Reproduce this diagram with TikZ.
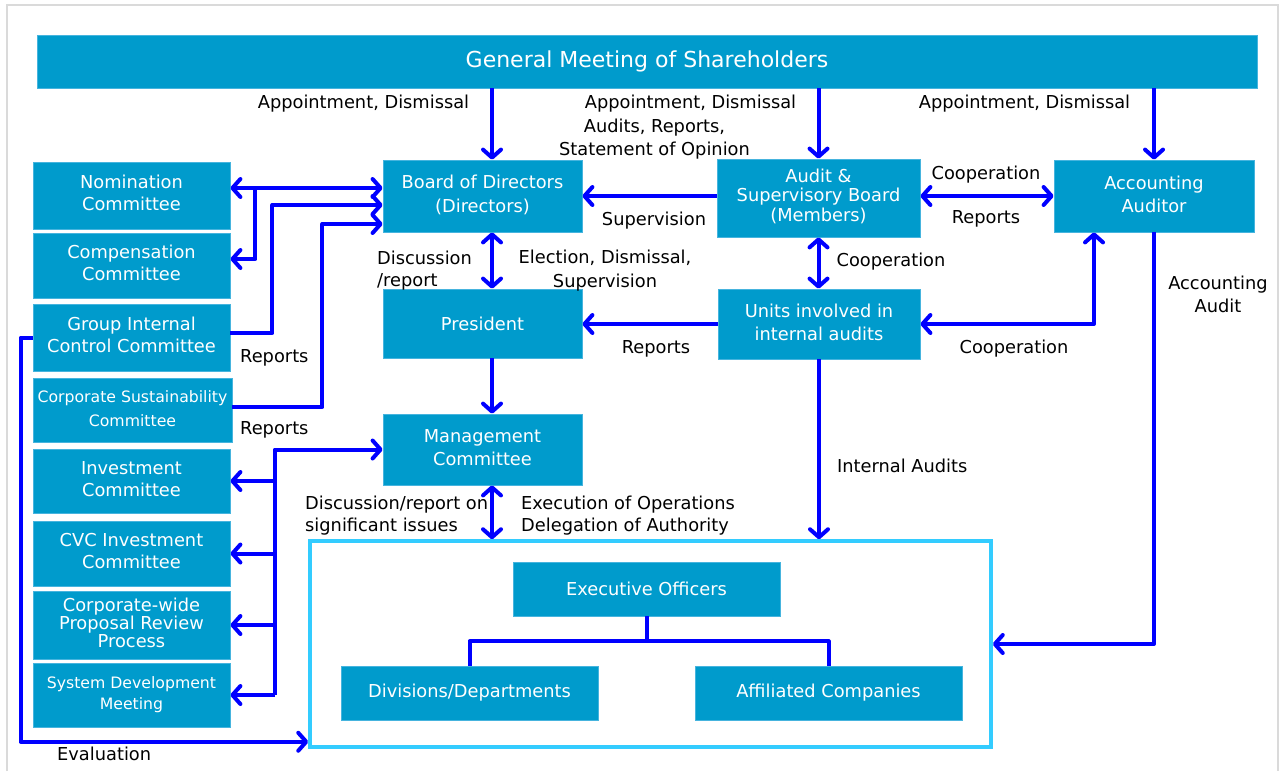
\documentclass[tikz,border=0pt]{standalone}
\usepackage{fontspec}
\setmainfont{DejaVu Sans}
\usetikzlibrary{arrows.meta,calc}
\definecolor{boxc}{RGB}{0,155,204}
\definecolor{boxedge}{RGB}{70,180,222}
\definecolor{linec}{RGB}{0,0,255}
\definecolor{framec}{RGB}{51,204,255}
\definecolor{grayc}{RGB}{218,218,218}
\newcommand{\bxt}[1]{\raisebox{2pt}{\begin{tabular}{@{}c@{}}#1\end{tabular}}}
\tikzset{
 box/.style={fill=boxc, draw=boxedge, line width=0.8pt, text=white, inner sep=0pt, font=\fontsize{17.8}{22}\selectfont},
 lbl/.style={text=black, inner sep=0pt, align=center, font=\fontsize{17.8}{23}\selectfont},
 arr/.style={draw=linec, line width=4pt, line join=round, >={Straight Barb[length=8pt,width=18pt,round]}},
}
\begin{document}
\begin{tikzpicture}[x=1pt,y=-1pt]
\useasboundingbox (0,0) rectangle (1279,771);
\draw[grayc, line width=2pt] (7,771) -- (7,5) -- (1278,5) -- (1278,771);

% main boxes
\node[box, minimum width=1220pt, minimum height=53pt, font=\fontsize{22}{26}\selectfont] (gms) at (647,61.5) {General Meeting of Shareholders};
\node[box, minimum width=199pt, minimum height=72pt, font=\fontsize{17.8}{24}\selectfont] (board) at (482.5,196) {\bxt{Board of Directors\\(Directors)}};
\node[box, minimum width=203pt, minimum height=78pt, font=\fontsize{17.8}{19}\selectfont] (audit) at (818.5,198) {\bxt{Audit \&\\Supervisory Board\\(Members)}};
\node[box, minimum width=200pt, minimum height=72pt, font=\fontsize{17.8}{23}\selectfont] (acc) at (1154,196) {\bxt{Accounting\\Auditor}};
\node[box, minimum width=199pt, minimum height=69pt] (president) at (482.5,323.5) {President};
\node[box, minimum width=202pt, minimum height=70pt, font=\fontsize{17.8}{23}\selectfont] (units) at (819,324) {\bxt{Units involved in\\internal audits}};
\node[box, minimum width=199pt, minimum height=71pt, font=\fontsize{17.8}{23}\selectfont] (mgmt) at (482.5,449.5) {\bxt{Management\\Committee}};

% left committees
\node[box, minimum width=197pt, minimum height=67pt] (nom) at (131.5,195.5) {\bxt{Nomination\\Committee}};
\node[box, minimum width=197pt, minimum height=65pt] (comp) at (131.5,265.5) {\bxt{Compensation\\Committee}};
\node[box, minimum width=197pt, minimum height=67pt] (gic) at (131.5,337.5) {\bxt{Group Internal\\Control Committee}};
\node[box, minimum width=199pt, minimum height=64pt, font=\fontsize{15.7}{24}\selectfont] (csc) at (132.5,410) {\bxt{Corporate Sustainability\\Committee}};
\node[box, minimum width=197pt, minimum height=64pt] (inv) at (131.5,481) {\bxt{Investment\\Committee}};
\node[box, minimum width=197pt, minimum height=65pt] (cvc) at (131.5,553.5) {\bxt{CVC Investment\\Committee}};
\node[box, minimum width=197pt, minimum height=68pt, font=\fontsize{17.8}{15}\selectfont] (cwp) at (131.5,625) {\bxt{Corporate-wide\\Proposal Review\\Process}};
\node[box, minimum width=197pt, minimum height=64pt, font=\fontsize{15.7}{21}\selectfont] (sdm) at (131.5,695) {\bxt{System Development\\Meeting}};

% execution frame
\node[draw=framec, line width=3.5pt, minimum width=681pt, minimum height=206pt, inner sep=0pt] (frame) at (650.5,644) {};
\node[box, minimum width=267pt, minimum height=54pt] (exec) at (646.5,589) {Executive Officers};
\node[box, minimum width=257pt, minimum height=54pt] (div) at (469.5,693) {Divisions/Departments};
\node[box, minimum width=267pt, minimum height=54pt] (aff) at (828.5,693) {Affiliated Companies};

% labels
\node[lbl] (l1) at (363.5,104) {Appointment, Dismissal};
\node[lbl] (l2) at (690.5,104) {Appointment, Dismissal};
\node[lbl] (l3) at (654.5,139) {Audits, Reports,\\Statement of Opinion};
\node[lbl] (l4) at (1024.5,104) {Appointment, Dismissal};
\node[lbl] (l5) at (654,221) {Supervision};
\node[lbl] (l6) at (986,175) {Cooperation};
\node[lbl] (l7) at (986,219) {Reports};
\node[lbl, align=left, anchor=west, font=\fontsize{17.8}{22}\selectfont] (l8) at (377,271) {Discussion\\/report};
\node[lbl, font=\fontsize{17.8}{24}\selectfont] (l9) at (605,271) {Election, Dismissal,\\Supervision};
\node[lbl] (l10) at (891,262) {Cooperation};
\node[lbl] (l11) at (1218,294.5) {Accounting\\Audit};
\node[lbl] (l12) at (656,349) {Reports};
\node[lbl] (l13) at (1014,349) {Cooperation};
\node[lbl, anchor=west] (l14) at (240,358) {Reports};
\node[lbl, anchor=west] (l15) at (240,430) {Reports};
\node[lbl, anchor=west] (l16) at (837,465.5) {Internal Audits};
\node[lbl, align=left, anchor=west, font=\fontsize{17.8}{22}\selectfont] (l17) at (305,516) {Discussion/report on\\significant issues};
\node[lbl, align=left, anchor=west, font=\fontsize{17.8}{22}\selectfont] (l18) at (521,516) {Execution of Operations\\Delegation of Authority};
\node[lbl, anchor=west] (l19) at (57,753.5) {Evaluation};

% connectors from the general meeting
\coordinate (bt) at ($(board.north)+(9.5,0)$);
\draw[arr,->] (gms.south -| bt) -- (bt);
\draw[arr,->] (gms.south -| audit.north) -- (audit.north);
\draw[arr,->] (gms.south -| acc.north) -- (acc.north);

% central column
\coordinate (bb) at ($(board.south)+(9.5,0)$);
\draw[arr,<->] (bb) -- (bb |- president.north);
\coordinate (pb) at ($(president.south)+(9.5,0)$);
\draw[arr,->] (pb) -- (pb |- mgmt.north);
\coordinate (mb) at ($(mgmt.south)+(9.5,0)$);
\draw[arr,<->] (mb) -- (mb |- frame.north);

% audit side
\draw[arr,->] (audit.west |- board.east) -- (board.east);
\draw[arr,<->] (audit.east |- acc.west) -- (acc.west);
\draw[arr,<->] (audit.south) -- (audit.south |- units.north);
\draw[arr,->] (units.west) -- (units.west -| president.east);
\coordinate (ab) at ($(acc.south)+(-60,0)$);
\draw[arr,<->] (units.east) -| (ab);
\draw[arr,->] (acc.south) |- (frame.east);
\draw[arr,->] (units.south) -- (units.south |- frame.north);

% executive tree
\draw[arr] (exec.south) -- ++(0,25) coordinate (tj) -| (div.north);
\draw[arr] (tj) -| (aff.north);

% committees to board
\draw[arr,<->] ($(nom.east)+(0,-7.5)$) -- ($(board.west)+(0,-8)$);
\draw[arr,->] ($(nom.east)+(25,-7.5)$) |- ($(comp.east)+(0,-6.5)$);
\draw[arr,->] ($(gic.east)+(0,-4.5)$) -- ++(42,0) |- ($(board.west)+(0,9)$);
\draw[arr,->] ($(csc.east)+(0,-3)$) -- ++(90,0) |- ($(board.west)+(0,28)$);

% management committee bus
\coordinate (bus) at ($(mgmt.west)+(-108,0)$);
\draw[arr,->] (bus |- sdm.east) -- (bus) -- (mgmt.west);
\foreach \n in {inv,cvc,cwp,sdm} \draw[arr,->] (bus |- \n.east) -- (\n.east);

% evaluation
\draw[arr,->] (gic.west) -- ++(-12,0) |- ($(frame.south west)+(0,-7)$);
\end{tikzpicture}
\end{document}
